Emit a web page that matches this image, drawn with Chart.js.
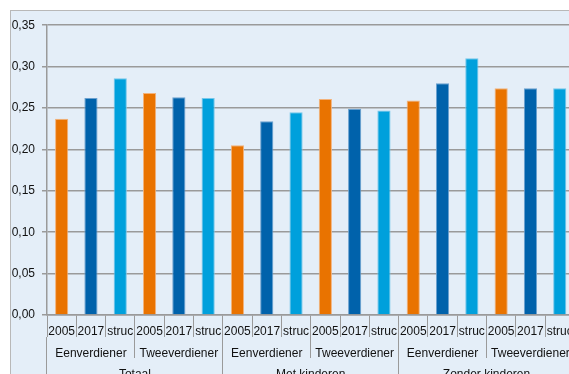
<!DOCTYPE html>
<html>
<head>
<meta charset="utf-8">
<script src="https://cdn.jsdelivr.net/npm/chart.js@4/dist/chart.umd.min.js"></script>
<style>
  html, body { margin: 0; padding: 0; overflow: hidden; background: #fff; }
  #box {
    position: absolute; left: 10px; top: 10px;
    width: 600px; height: 400px;
    border: 1px solid #b8b8b8;
    background: #e4eef8;
  }
  canvas { display: block; }
</style>
</head>
<body>
<div id="box"><canvas id="chart" width="600" height="400"></canvas></div>
<script>
// categorieën
const years = ["2005", "2017", "struc"];
const households = ["Eenverdiener", "Tweeverdiener"];
const segments = ["Totaal", "Met kinderen", "Zonder kinderen"];

// waarden per segment (Eenverdiener 2005/2017/struc, Tweeverdiener 2005/2017/struc)
const totaal = [0.237, 0.262, 0.286, 0.268, 0.263, 0.262];
const metKinderen = [0.205, 0.234, 0.245, 0.261, 0.249, 0.247];
const zonderKinderen = [0.259, 0.280, 0.310, 0.274, 0.274, 0.274];

const yTicks = [0, 0.05, 0.10, 0.15, 0.20, 0.25, 0.30, 0.35];

const yearColors = ["#e97300", "#0062ab", "#00a0dc"];
const yearBorders = ["#f3b27a", "#6aa0cf", "#74c6ea"];

// labels opbouwen
const level1 = [];
const level2 = [];
segments.forEach(function () {
  households.forEach(function (h) {
    level2.push(h);
    years.forEach(function (y) { level1.push(y); });
  });
});
const values = totaal.concat(metKinderen, zonderKinderen);
const barColors = level1.map(function (_, i) { return yearColors[i % 3]; });
const barBorders = level1.map(function (_, i) { return yearBorders[i % 3]; });

const axisGray = "#9a9a9a";
const textColor = "#111111";
const font = { family: "'Liberation Sans', Arial, sans-serif", size: 12 };

const ctx = document.getElementById("chart").getContext("2d");
new Chart(ctx, {
  type: "bar",
  data: {
    labels: level1,
    datasets: [{
      data: values,
      backgroundColor: barColors,
      borderColor: barBorders,
      borderWidth: 1,
      barPercentage: 0.45,
      categoryPercentage: 1,
    }],
  },
  options: {
    responsive: false,
    devicePixelRatio: 1,
    animation: false,
    layout: { padding: { top: 13, right: 36.6, bottom: 13, left: 0 } },
    plugins: { legend: { display: false }, tooltip: { enabled: false } },
    scales: {
      y: {
        min: 0,
        max: 0.35,
        afterBuildTicks: function (s) { s.ticks = yTicks.map(function (v) { return { value: v }; }); },
        afterFit: function (s) { s.width = 36; },
        ticks: {
          color: textColor,
          font: font,
          padding: 7,
          callback: function (v) { return Number(v).toFixed(2).replace(".", ","); },
        },
        grid: { color: axisGray, lineWidth: 1.5, tickLength: 5 },
        border: { color: axisGray, width: 1.5 },
      },
      x: {
        offset: true,
        afterFit: function (s) { s.height = 22; },
        ticks: { color: textColor, font: font, autoSkip: false, maxRotation: 0, minRotation: 0, padding: -12.5 },
        grid: { offset: true, drawOnChartArea: false, color: axisGray, tickLength: 22 },
        border: { color: axisGray, width: 1.5 },
      },
      x2: {
        type: "category",
        position: "bottom",
        labels: level2,
        offset: true,
        afterFit: function (s) { s.height = 21; },
        ticks: { color: textColor, font: font, autoSkip: false, maxRotation: 0, minRotation: 0, padding: -11.5 },
        grid: { offset: true, drawOnChartArea: false, color: axisGray, tickLength: 21 },
        border: { display: false },
      },
      x3: {
        type: "category",
        position: "bottom",
        labels: segments,
        offset: true,
        afterFit: function (s) { s.height = 40; },
        ticks: { color: textColor, font: font, autoSkip: false, maxRotation: 0, minRotation: 0, padding: -31 },
        grid: { offset: true, drawOnChartArea: false, color: axisGray, tickLength: 40 },
        border: { display: false },
      },
    },
  },
});
</script>
</body>
</html>
